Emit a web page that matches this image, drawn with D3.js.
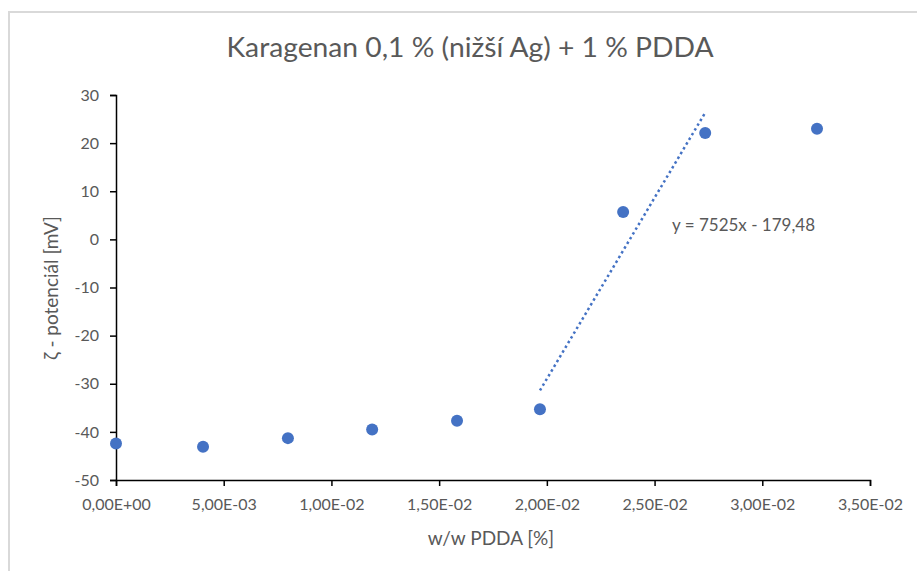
<!DOCTYPE html>
<html><head><meta charset="utf-8">
<script src="https://cdn.jsdelivr.net/npm/d3@7"></script>
<style>body{margin:0;background:#fff;} svg{display:block;} text{font-family:Lato,"Open Sans",sans-serif;}</style>
</head><body>
<svg id="c" width="917" height="571"></svg>
<script>
const title = "Karagenan 0,1 % (nižší Ag) + 1 % PDDA";
const xLabel = "w/w PDDA [%]";
const yLabel = "ζ - potenciál [mV]";
const xValues = [0, 0.00404, 0.00798, 0.01189, 0.01583, 0.01968, 0.02354, 0.02735, 0.03254];
const yValues = [-42.4, -43.1, -41.3, -39.5, -37.7, -35.3, 5.7, 22.1, 23.0];
const xTicks = [0, 0.005, 0.01, 0.015, 0.02, 0.025, 0.03, 0.035];
const xTickLabels = ["0,00E+00","5,00E-03","1,00E-02","1,50E-02","2,00E-02","2,50E-02","3,00E-02","3,50E-02"];
const yTicks = [-50, -40, -30, -20, -10, 0, 10, 20, 30];
const trendSlope = 7525, trendIntercept = -179.48;
const trendRange = [0.01968, 0.02735];
const trendLabel = "y = 7525x - 179,48";

const svg = d3.select("#c");
const x = d3.scaleLinear().domain([0, 0.035]).range([116, 870]);
const y = d3.scaleLinear().domain([-50, 30]).range([480, 95]);

svg.append("rect").attr("x", 9).attr("y", 12).attr("width", 1000).attr("height", 1000)
  .attr("fill", "none").attr("stroke", "#d9d9d9").attr("stroke-width", 2);

svg.append("text").attr("x", 470).attr("y", 57).attr("text-anchor", "middle")
  .attr("font-size", 26).attr("fill", "#595959")
  .attr("textLength", 487).attr("lengthAdjust", "spacingAndGlyphs").text(title);

const xAxis = svg.append("g").attr("transform", `translate(0,${y(-50)})`)
  .call(d3.axisBottom(x).tickValues(xTicks).tickFormat((d,i)=>xTickLabels[i]).tickSizeOuter(0).tickSize(6).tickPadding(13));
const yAxis = svg.append("g").attr("transform", `translate(${x(0)},0)`)
  .call(d3.axisLeft(y).tickValues(yTicks).tickSizeOuter(0).tickSize(6).tickPadding(11).tickFormat(d3.format("d")));
[xAxis, yAxis].forEach(g => {
  g.select(".domain").attr("stroke", "#000").attr("stroke-width", 1.5);
  g.selectAll(".tick line").attr("stroke", "#000").attr("stroke-width", 1.5);
  g.selectAll(".tick text").attr("fill", "#595959").attr("font-size", 16).attr("font-family", "Lato, sans-serif");
});
yAxis.selectAll(".tick text").text(d => d < 0 ? "-" + Math.abs(d) : d);

svg.append("text").attr("x", 491).attr("y", 545).attr("text-anchor", "middle")
  .attr("font-size", 19).attr("fill", "#595959").text(xLabel);
svg.append("text").attr("transform", "translate(58,288) rotate(-90)").attr("text-anchor", "middle")
  .attr("font-size", 19).attr("fill", "#595959").text(yLabel);

svg.append("line")
  .attr("x1", x(trendRange[0])).attr("y1", y(trendSlope*trendRange[0]+trendIntercept))
  .attr("x2", x(trendRange[1])).attr("y2", y(trendSlope*trendRange[1]+trendIntercept))
  .attr("stroke", "#4472C4").attr("stroke-width", 2.5).attr("stroke-dasharray", "2.5 3");

svg.append("g").selectAll("circle").data(xValues).join("circle")
  .attr("cx", d => x(d)).attr("cy", (d,i) => y(yValues[i])).attr("r", 6)
  .attr("fill", "#4472C4");

svg.append("text").attr("x", 672).attr("y", 231).attr("font-size", 17).attr("fill", "#595959").text(trendLabel);
</script>
</body></html>
